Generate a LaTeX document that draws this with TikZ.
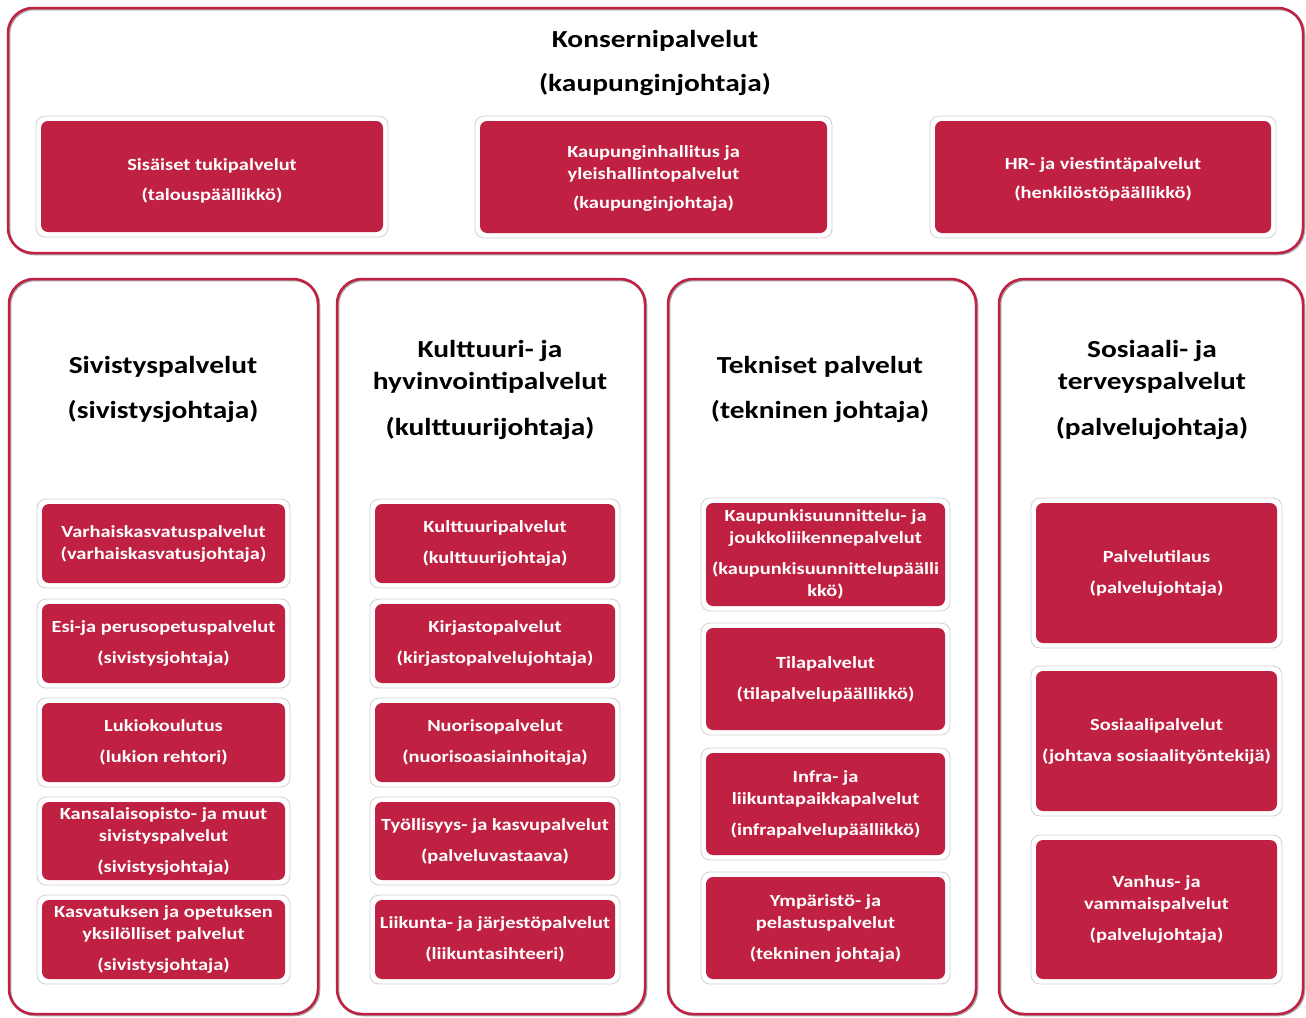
\documentclass[tikz,border=0pt]{standalone}
\usepackage{fontspec}
\setmainfont{Carlito}[FakeStretch=1.2]
\usetikzlibrary{calc}
\definecolor{crim}{RGB}{192,33,66}
\newcommand\bxf{\fontsize{17}{22}\selectfont\bfseries}
\newcommand\ttlf{\fontsize{24.5}{32}\selectfont\bfseries}
\newcommand\rb[6]{%
  \path[shell] (#2-#4/2-5,#3-#5/2-5) rectangle (#2+#4/2+5,#3+#5/2+5);
  \node[rbox,minimum width=#4,minimum height=#5] (#1) at (#2,#3) {#6};}
\begin{document}
\begin{tikzpicture}[x=1pt,y=-1pt,
 frame/.style={draw=crim, line width=2.5pt, rounded corners=25pt},
 shadowf/.style={draw=black!35, line width=2.5pt, rounded corners=25pt},
 ttl/.style={font=\ttlf, align=center, text=black},
 rbox/.style={fill=crim, rounded corners=7pt, text=white, align=center, font=\bxf, inner sep=0pt},
 shell/.style={draw=black!18, line width=0.8pt, fill=white, rounded corners=9pt}]
\useasboundingbox[fill=white] (0,0) rectangle (1306,1017);

% frames
\draw[shadowf] (9,9) rectangle (1304,254);
\draw[frame] (8,8) rectangle (1303,253);
\foreach \a/\b in {9/318, 337/645, 668/976, 999/1303}{
  \draw[shadowf] (\a+1,280) rectangle (\b+1,1015);
  \draw[frame] (\a,279) rectangle (\b,1014);
}

% titles
\node[ttl] (tk) at (655,63) {Konsernipalvelut\\[12pt](kaupunginjohtaja)};
\node[ttl] (t1) at (163,389.5) {Sivistyspalvelut\\[13pt](sivistysjohtaja)};
\node[ttl] (t2) at (490,390) {Kulttuuri- ja\\hyvinvointipalvelut\\[14pt](kulttuurijohtaja)};
\node[ttl] (t3) at (820,389.5) {Tekniset palvelut\\[13pt](tekninen johtaja)};
\node[ttl] (t4) at (1152,390) {Sosiaali- ja\\terveyspalvelut\\[14pt](palvelujohtaja)};

% top boxes
\rb{k1}{212}{176.5}{342}{111}{\rule{0pt}{21pt}Sisäiset tukipalvelut\\[8pt](talouspäällikkö)}
\rb{k2}{653.5}{177}{347}{112}{\rule{0pt}{14pt}Kaupunginhallitus ja\\yleishallintopalvelut\\[7pt](kaupunginjohtaja)}
\rb{k3}{1103}{177}{336}{112}{\rule{0pt}{17pt}HR- ja viestintäpalvelut\\[7pt](henkilöstöpäällikkö)}

% column 1
\rb{s1}{163.5}{543.5}{243}{79}{Varhaiskasvatuspalvelut\\(varhaiskasvatusjohtaja)}
\rb{s2}{163.5}{643.5}{243}{79}{Esi-ja perusopetuspalvelut\\[9pt](sivistysjohtaja)}
\rb{s3}{163.5}{742.5}{243}{79}{Lukiokoulutus\\[9pt](lukion rehtori)}
\rb{s4}{163.5}{841}{243}{78}{Kansalaisopisto- ja muut\\sivistyspalvelut\\[9pt](sivistysjohtaja)}
\rb{s5}{163.5}{939.5}{243}{79}{Kasvatuksen ja opetuksen\\yksilölliset palvelut\\[9pt](sivistysjohtaja)}

% column 2
\rb{h1}{495}{543.5}{240}{79}{Kulttuuripalvelut\\[9pt](kulttuurijohtaja)}
\rb{h2}{495}{643.5}{240}{79}{Kirjastopalvelut\\[9pt](kirjastopalvelujohtaja)}
\rb{h3}{495}{742.5}{240}{79}{Nuorisopalvelut\\[9pt](nuorisoasiainhoitaja)}
\rb{h4}{495}{841}{240}{78}{Työllisyys- ja kasvupalvelut\\[9pt](palveluvastaava)}
\rb{h5}{495}{939.5}{240}{79}{Liikunta- ja järjestöpalvelut\\[9pt](liikuntasihteeri)}

% column 3
\rb{e1}{825.5}{554.5}{239}{103}{Kaupunkisuunnittelu- ja\\joukkoliikennepalvelut\\[9pt](kaupunkisuunnittelupäälli\\kkö)}
\rb{e2}{825.5}{679}{239}{102}{Tilapalvelut\\[9pt](tilapalvelupäällikkö)}
\rb{e3}{825.5}{804}{239}{102}{Infra- ja\\liikuntapaikkapalvelut\\[9pt](infrapalvelupäällikkö)}
\rb{e4}{825.5}{928}{239}{102}{Ympäristö- ja\\pelastuspalvelut\\[9pt](tekninen johtaja)}

% column 4
\rb{p1}{1156.5}{573}{241}{140}{Palvelutilaus\\[9pt](palvelujohtaja)}
\rb{p2}{1156.5}{741}{241}{140}{Sosiaalipalvelut\\[9pt](johtava sosiaalityöntekijä)}
\rb{p3}{1156.5}{909.5}{241}{139}{Vanhus- ja\\vammaispalvelut\\[9pt](palvelujohtaja)}
\end{tikzpicture}
\end{document}
